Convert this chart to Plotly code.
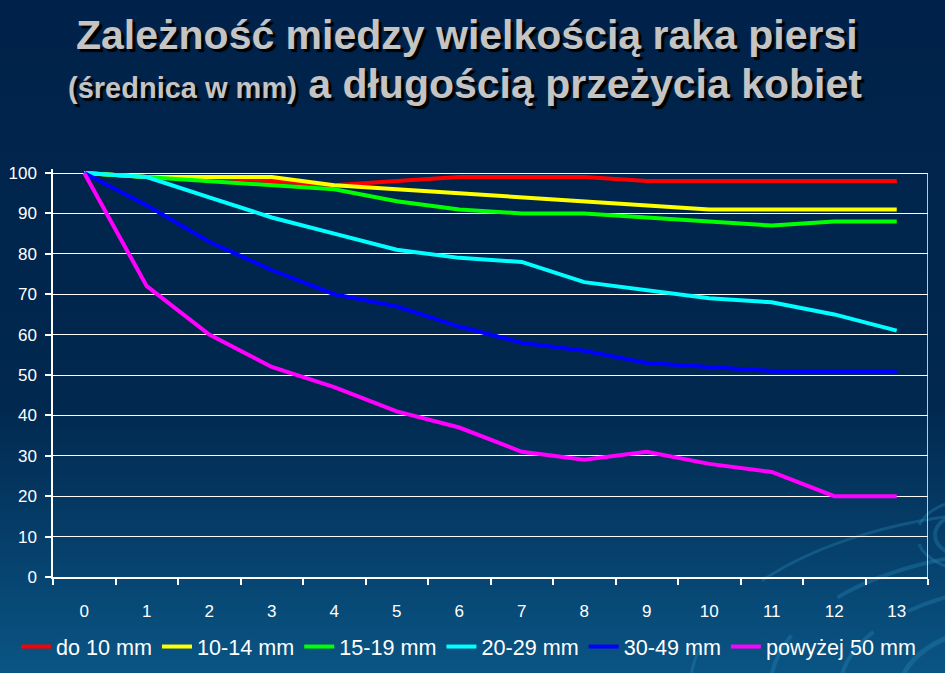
import plotly.graph_objects as go
import urllib.parse

years = list(range(14))
series_names = ["do 10 mm", "10-14 mm", "15-19 mm", "20-29 mm", "30-49 mm", "powyżej 50 mm"]
do10 = [100, 99, 99, 98, 97, 98, 99, 99, 99, 98, 98, 98, 98, 98]
s10_14 = [100, 99, 99, 99, 97, 96, 95, 94, 93, 92, 91, 91, 91, 91]
s15_19 = [100, 99, 98, 97, 96, 93, 91, 90, 90, 89, 88, 87, 88, 88]
s20_29 = [100, 99, 94, 89, 85, 81, 79, 78, 73, 71, 69, 68, 65, 61]
s30_49 = [100, 92, 83, 76, 70, 67, 62, 58, 56, 53, 52, 51, 51, 51]
s50 = [100, 72, 60, 52, 47, 41, 37, 31, 29, 31, 28, 26, 20, 20]
colors = ["#FF0000", "#FFFF00", "#00FF00", "#00FFFF", "#0000FF", "#FF00FF"]
y_ticks = list(range(0, 101, 10))
title1 = "Zależność miedzy wielkością raka piersi"
title2a = "(średnica w mm)"
title2b = "a długością przeżycia kobiet"

W, H = 945, 673
L, R, T, B = 53, 17, 169, 96
PW, PH = W - L - R, H - T - B

def py(ypix):
    return (H - B - ypix) / PH

def px(xpix):
    return (xpix - L) / PW

bg_svg = (
    "<svg xmlns='http://www.w3.org/2000/svg' width='945' height='673' viewBox='0 0 945 673'>"
    "<defs><linearGradient id='g' x1='0' y1='0' x2='0' y2='1'>"
    "<stop offset='0' stop-color='#00224a'/>"
    "<stop offset='0.6' stop-color='#01284f'/>"
    "<stop offset='1' stop-color='#0a5584'/>"
    "</linearGradient></defs>"
    "<rect width='945' height='673' fill='url(#g)'/>"
    "<g fill='none' stroke='#2a86b8' stroke-opacity='0.35'>"
    "<ellipse cx='1040' cy='690' rx='90' ry='40' stroke-width='6'/>"
    "<ellipse cx='1040' cy='690' rx='140' ry='70' stroke-width='5' stroke-dasharray='120 30'/>"
    "<ellipse cx='1040' cy='690' rx='200' ry='105' stroke-width='4' stroke-dasharray='160 40'/>"
    "<ellipse cx='1040' cy='690' rx='270' ry='140' stroke-width='4' stroke-dasharray='200 60'/>"
    "<ellipse cx='1040' cy='690' rx='350' ry='180' stroke-width='3' stroke-dasharray='240 90'/>"
    "<ellipse cx='975' cy='535' rx='25' ry='14' stroke-width='5'/>"
    "<ellipse cx='975' cy='535' rx='40' ry='24' stroke-width='4'/>"
    "<ellipse cx='975' cy='535' rx='58' ry='36' stroke-width='3' stroke-dasharray='60 20'/>"
    "</g></svg>"
)
bg_uri = "data:image/svg+xml;charset=utf-8," + urllib.parse.quote(bg_svg)

fig = go.Figure()
all_series = [do10, s10_14, s15_19, s20_29, s30_49, s50]
for name, vals, col in zip(series_names, all_series, colors):
    fig.add_trace(go.Scatter(
        x=years, y=vals, name=name, mode="lines",
        line=dict(color=col, width=4),
    ))

fig.add_shape(type="line", xref="x", yref="y", x0=13.5, x1=13.5, y0=0, y1=100,
              line=dict(color="white", width=1.5), layer="above")

fig.add_layout_image(dict(
    source=bg_uri, xref="paper", yref="paper",
    x=px(0), y=py(0), sizex=W / PW, sizey=H / PH,
    xanchor="left", yanchor="top", sizing="stretch", layer="below",
))

title_font = dict(family="Liberation Sans, Arial, sans-serif", size=41, color="#c4c4c4",
                  weight="bold", shadow="3px 3px 1px #000000")
fig.add_annotation(text=title1, xref="paper", yref="paper", x=px(467), y=py(35),
                   xanchor="center", yanchor="middle", showarrow=False, font=title_font)
fig.add_annotation(text="<span style='font-size:29px'>" + title2a + "</span> " + title2b,
                   xref="paper", yref="paper", x=px(465), y=py(84),
                   xanchor="center", yanchor="middle", showarrow=False, font=title_font)

fig.update_layout(
    width=W, height=H,
    margin=dict(l=L, r=R, t=T, b=B, autoexpand=False),
    paper_bgcolor="#00224a",
    plot_bgcolor="rgba(0,0,0,0)",
    font=dict(family="Liberation Sans, Arial, sans-serif", color="white"),
    showlegend=True,
    legend=dict(
        orientation="h", x=px(16), y=py(647), xanchor="left", yanchor="middle",
        font=dict(size=21.6, color="white"), bgcolor="rgba(0,0,0,0)",
        itemwidth=30, tracegroupgap=0,
    ),
    xaxis=dict(
        range=[-0.5, 13.5], tickvals=years, ticktext=[str(v) for v in years],
        ticks="", showgrid=False, zeroline=False, automargin=False,
        showline=True, linecolor="white", linewidth=1.5,
        tickfont=dict(size=17, color="white"),
        minor=dict(tickvals=[v - 0.5 for v in range(15)], ticks="outside",
                   ticklen=6, tickcolor="white", tickwidth=1.5, showgrid=False),
        ticklabelstandoff=18,
    ),
    yaxis=dict(
        range=[0, 101], tickvals=y_ticks, ticks="outside", ticklen=6,
        tickcolor="white", tickwidth=1.5, automargin=False,
        showgrid=True, gridcolor="white", gridwidth=1.2, zeroline=False,
        showline=True, linecolor="white", linewidth=1.5,
        tickfont=dict(size=17, color="white"),
        ticklabelstandoff=5,
    ),
)

fig.write_html("out.html", post_script="document.body.style.margin='0';",
               config={"displayModeBar": False})
